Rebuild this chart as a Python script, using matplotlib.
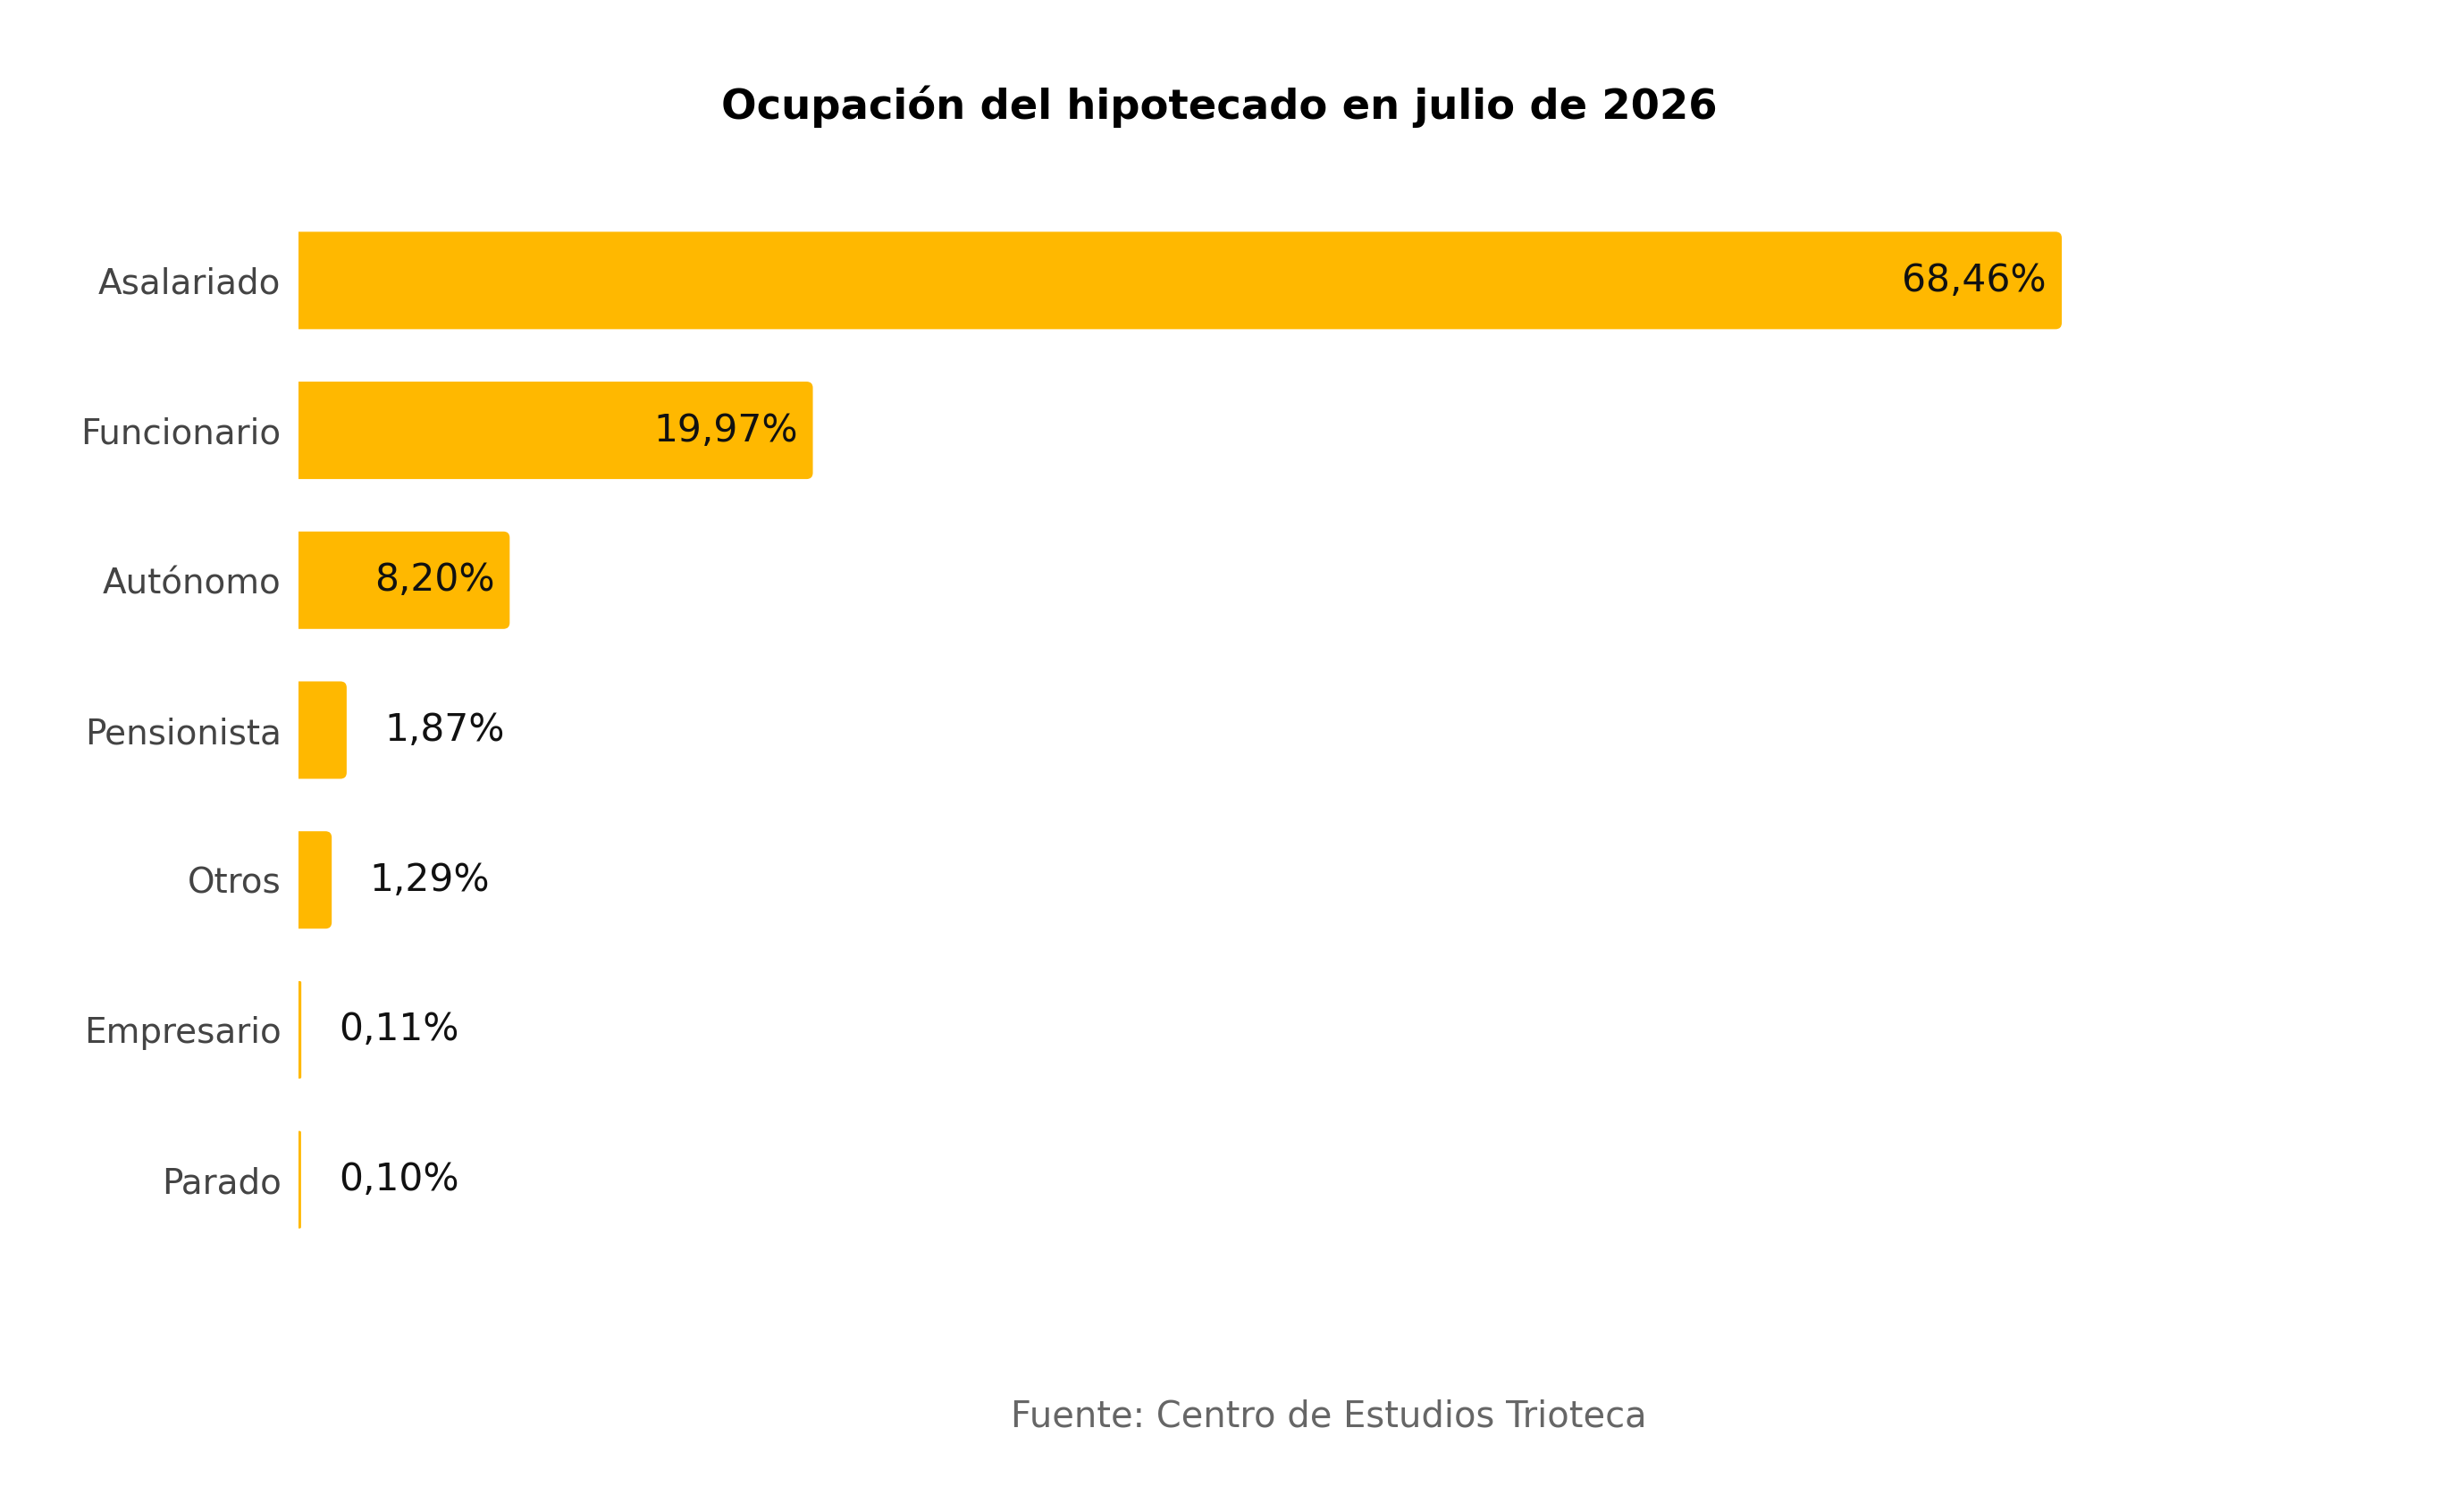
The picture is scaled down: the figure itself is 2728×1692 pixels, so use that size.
import matplotlib
matplotlib.use("Agg")
import matplotlib.pyplot as plt
from matplotlib.patches import FancyBboxPatch

categories = ["Asalariado", "Funcionario", "Autónomo", "Pensionista", "Otros", "Empresario", "Parado"]
values = [68.46, 19.97, 8.20, 1.87, 1.29, 0.11, 0.10]
labels = ["68,46%", "19,97%", "8,20%", "1,87%", "1,29%", "0,11%", "0,10%"]
title = "Ocupación del hipotecado en julio de 2026"
source = "Fuente: Centro de Estudios Trioteca"

W, H = 2728, 1692
DPI = 100
fig = plt.figure(figsize=(W / DPI, H / DPI), dpi=DPI)
plt.rcParams['font.family'] = ['DejaVu Sans']

left_px = 334
right_frac = 0.90
top_px, ax_h_px = 230, 1174
ax = fig.add_axes([left_px / W, 1 - (top_px + ax_h_px) / H, right_frac - left_px / W, ax_h_px / H])
axes_w_px = (right_frac - left_px / W) * W
xmax = axes_w_px / (2307 - left_px) * values[0]

bar_color = "#FFB800"
ypos = list(range(len(categories)))
bars = ax.barh(ypos, values, height=0.65, color=bar_color, edgecolor="none")
ax.set_xlim(0, xmax)
ax.set_ylim(len(categories) - 0.5, -0.5)
ax.set_yticks(ypos)
ax.set_yticklabels(categories, fontsize=28, color="#444444")
ax.tick_params(axis="y", length=0, pad=14)
ax.set_xticks([])
for s in ax.spines.values():
    s.set_visible(False)

# rounded right corners
xu = xmax / axes_w_px
yu = len(categories) / ax_h_px
r_px = 7
for b in bars:
    x0, y0, w, h = b.get_x(), b.get_y(), b.get_width(), b.get_height()
    wpx = w / xu
    r = min(r_px, wpx / 2.0)
    if r < 1:
        continue
    b.set_visible(False)
    p = FancyBboxPatch((x0 - r * xu, y0), w + r * xu, h,
                       boxstyle=f"round,pad=0,rounding_size={r * xu}",
                       mutation_aspect=yu / xu,
                       facecolor=bar_color, edgecolor="none")
    ax.add_patch(p)

px_per_unit = 1 / xu
for y, v, lab in zip(ypos, values, labels):
    if v > 5:
        ax.text(v - 17 / px_per_unit, y, lab, ha="right", va="center", fontsize=30.5, color="#111111")
    else:
        ax.text(v + 42 / px_per_unit, y, lab, ha="left", va="center", fontsize=30.5, color="#111111")

fig.text(1364 / W, 1 - 119 / H, title, ha="center", va="center", fontsize=33.5, fontweight="bold", color="#000000")
fig.text(1487 / W, 1 - 1585 / H, source, ha="center", va="center", fontsize=28.8, color="#666666")

fig.savefig("out.png", dpi=DPI, facecolor="white")
